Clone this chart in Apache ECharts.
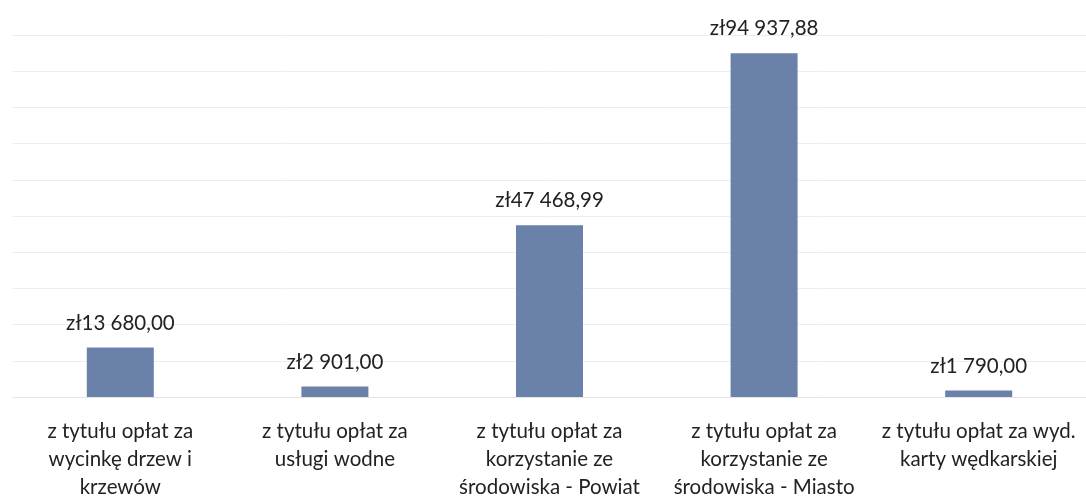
<!DOCTYPE html>
<html>
<head>
<meta charset="utf-8">
<script src="https://cdn.jsdelivr.net/npm/echarts@6/dist/echarts.min.js"></script>
<style>
  html, body { margin: 0; padding: 0; background: #fff; }
  #chart { width: 1086px; height: 497px; }
</style>
</head>
<body>
<div id="chart"></div>
<script>
const categories = [
  "z tytułu opłat za\nwycinkę drzew i\nkrzewów",
  "z tytułu opłat za\nusługi wodne",
  "z tytułu opłat za\nkorzystanie ze\nśrodowiska - Powiat",
  "z tytułu opłat za\nkorzystanie ze\nśrodowiska - Miasto",
  "z tytułu opłat za wyd.\nkarty wędkarskiej"
];
const amounts = [13680.00, 2901.00, 47468.99, 94937.88, 1790.00];

function formatZl(v) {
  const parts = v.toFixed(2).split(".");
  const whole = parts[0].replace(/\B(?=(\d{3})+(?!\d))/g, " ");
  return "zł" + whole + "," + parts[1];
}

const chart = echarts.init(document.getElementById("chart"));

chart.setOption({
  animation: false,
  grid: {left: 13, right: 0, top: 35, bottom: 100, outerBoundsMode: "none"},
  xAxis: {
    type: "category",
    data: categories,
    axisTick: {show: false},
    axisLine: {lineStyle: {color: "#e4e4e4"}},
    axisLabel: {
      interval: 0,
      margin: 20,
      color: "#222",
      fontFamily: "Lato",
      fontSize: 20.5,
      lineHeight: 28
    }
  },
  yAxis: {
    type: "value",
    min: 0,
    max: 100000,
    interval: 10000,
    axisLabel: {show: false},
    axisLine: {show: false},
    axisTick: {show: false},
    splitLine: {lineStyle: {color: "#ededed"}}
  },
  series: [{
    type: "bar",
    data: amounts,
    barWidth: 67,
    itemStyle: {color: "#6a81aa"},
    label: {
      show: true,
      position: "top",
      distance: 14,
      color: "#222",
      fontFamily: "Lato",
      fontSize: 20.5,
      formatter: p => formatZl(p.value)
    }
  }]
});
</script>
</body>
</html>
